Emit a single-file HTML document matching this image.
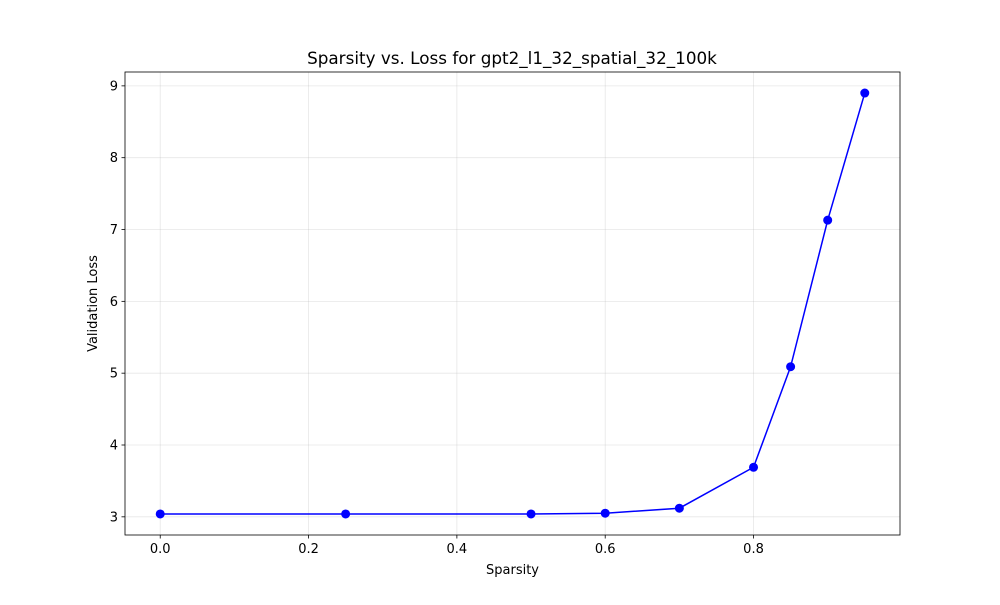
<!DOCTYPE html>
<html><head><meta charset="utf-8"><style>
body{margin:0;background:#fff;}
svg text{font-family:"DejaVu Sans","Liberation Sans",sans-serif;fill:#000;}
</style></head><body>
<svg id="chart" width="1000" height="600" xmlns="http://www.w3.org/2000/svg">
<rect width="1000" height="600" fill="#fff"/>
<text x="512" y="64" font-size="16.8" text-anchor="middle">Sparsity vs. Loss for gpt2_l1_32_spatial_32_100k</text>
<g id="grid"></g><g id="axes"></g><g id="series"></g>
<text x="512.5" y="574" font-size="13" text-anchor="middle">Sparsity</text>
<text transform="translate(97,303.5) rotate(-90)" font-size="13" text-anchor="middle">Validation Loss</text>
</svg>
<script>
const sparsity=[0,0.25,0.5,0.6,0.7,0.8,0.85,0.9,0.95];
const loss=[3.04,3.04,3.04,3.05,3.12,3.69,5.09,7.13,8.90];
const xTicks=[0,0.2,0.4,0.6,0.8];
const xTickLabels=["0.0","0.2","0.4","0.6","0.8"];
const yTicks=[3,4,5,6,7,8,9];
const yTickLabels=["3","4","5","6","7","8","9"];
const L=125,R=900,T=72,B=535;
const xmin=Math.min(...sparsity),xmax=Math.max(...sparsity),xp=(xmax-xmin)*0.05;
const ymin=Math.min(...loss),ymax=Math.max(...loss),yp=(ymax-ymin)*0.05;
const X=v=>L+(v-(xmin-xp))/((xmax+xp)-(xmin-xp))*(R-L);
const Y=v=>B-(v-(ymin-yp))/((ymax+yp)-(ymin-yp))*(B-T);
const NS="http://www.w3.org/2000/svg";
function mk(t,a,p){const e=document.createElementNS(NS,t);for(const k in a)e.setAttribute(k,a[k]);p.appendChild(e);return e;}
const g=document.getElementById('grid'),ax=document.getElementById('axes'),s=document.getElementById('series');
xTicks.forEach((t,i)=>{const x=X(t);
 let l=mk('line',{x1:x,x2:x,y1:T,y2:B,stroke:'#b0b0b0','stroke-opacity':0.3,'stroke-width':0.8},g);
 
 let k=mk('line',{x1:x,x2:x,y1:B,y2:B+3.5,stroke:'#000','stroke-width':0.8},ax);
 
 let tx=mk('text',{x:x,y:B+18,'font-size':13,'text-anchor':'middle'},ax);tx.textContent=xTickLabels[i];
 });
yTicks.forEach((t,i)=>{const y=Y(t);
 let l=mk('line',{x1:L,x2:R,y1:y,y2:y,stroke:'#b0b0b0','stroke-opacity':0.3,'stroke-width':0.8},g);
 
 let k=mk('line',{x1:L-3.5,x2:L,y1:y,y2:y,stroke:'#000','stroke-width':0.8},ax);
 
 let tx=mk('text',{x:L-7,y:y+4.5,'font-size':13,'text-anchor':'end'},ax);tx.textContent=yTickLabels[i];
 });
let fr=mk('rect',{x:L,y:T,width:R-L,height:B-T,fill:'none',stroke:'#000','stroke-width':0.8},ax);

let pl=mk('polyline',{points:sparsity.map((v,i)=>X(v)+','+Y(loss[i])).join(' '),fill:'none',stroke:'#0000ff','stroke-width':1.5},s);

sparsity.forEach((v,i)=>{let c=mk('circle',{cx:X(v),cy:Y(loss[i]),r:4.5,fill:'#0000ff'},s);
 });
</script>
</body></html>
